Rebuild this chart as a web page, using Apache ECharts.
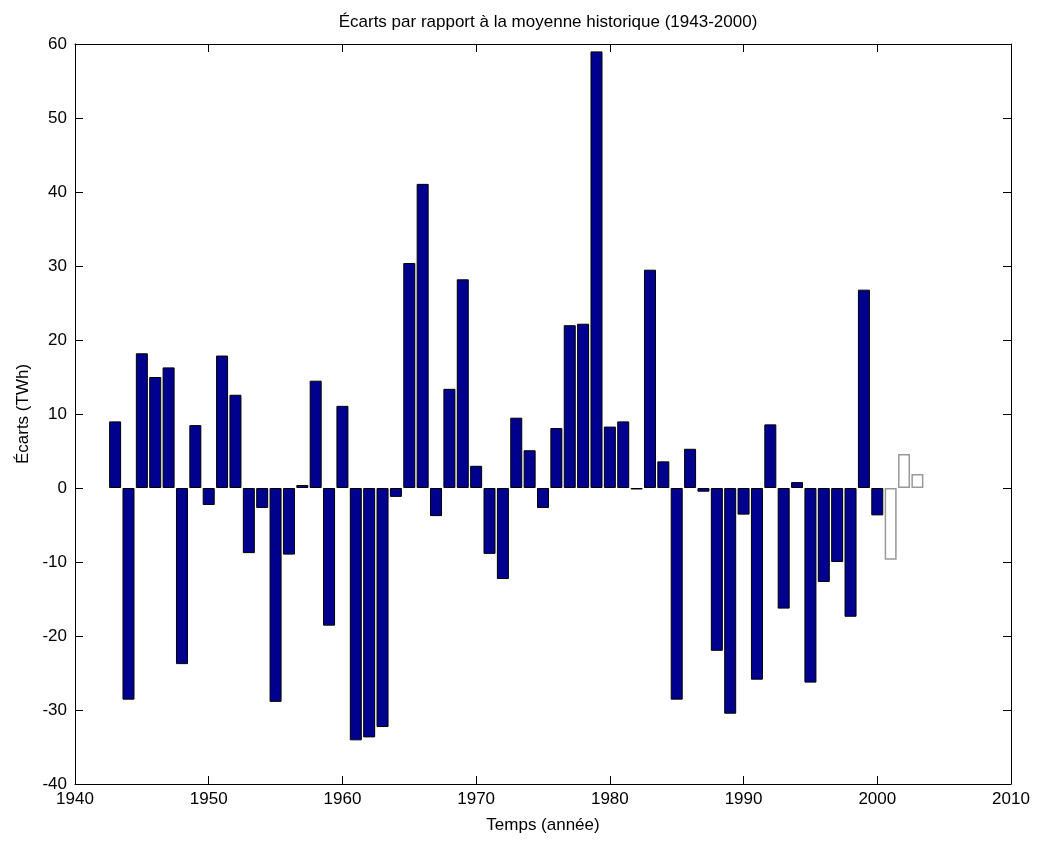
<!DOCTYPE html>
<html>
<head>
<meta charset="utf-8">
<script src="https://cdn.jsdelivr.net/npm/echarts@6/dist/echarts.min.js"></script>
<style>html,body{margin:0;padding:0;background:#fff}#c{width:1037px;height:846px}</style>
</head>
<body>
<div id="c"></div>
<script>
// Years and deviations (TWh) for historical period
const years = [1943,1944,1945,1946,1947,1948,1949,1950,1951,1952,1953,1954,1955,1956,1957,1958,1959,1960,
  1961,1962,1963,1964,1965,1966,1967,1968,1969,1970,1971,1972,1973,1974,1975,1976,1977,1978,1979,1980,
  1981,1982,1983,1984,1985,1986,1987,1988,1989,1990,1991,1992,1993,1994,1995,1996,1997,1998,1999,2000];
const ecarts = [9.0,-28.6,18.2,15.0,16.3,-23.8,8.5,-2.3,17.9,12.6,-8.8,-2.7,-28.9,-9.0,0.4,14.5,-18.6,11.1,
  -34.1,-33.7,-32.3,-1.2,30.4,41.1,-3.8,13.4,28.2,3.0,-8.9,-12.3,9.5,5.1,-2.7,8.1,22.0,22.2,59.0,8.3,
  9.0,-0.2,29.5,3.6,-28.6,5.3,-0.5,-22.0,-30.5,-3.6,-25.9,8.6,-16.3,0.8,-26.3,-12.7,-10.0,-17.4,26.8,-3.7];
// Recent years (outlined bars)
const yearsRecent = [2001,2002,2003];
const ecartsRecent = [-9.7,4.6,1.9];
const xTicks = [1940,1950,1960,1970,1980,1990,2000,2010];
const yTicks = [-40,-30,-20,-10,0,10,20,30,40,50,60];

const font = '"Liberation Sans", Arial, sans-serif';
const chart = echarts.init(document.getElementById('c'), null, {renderer:'canvas'});
const axisLine = {show:true, onZero:false, lineStyle:{color:'#000', width:1}};
const tick = {show:true, inside:true, length:8, lineStyle:{color:'#000', width:1}};
const lbl = {color:'#000', fontFamily:font, fontSize:17};

chart.setOption({
  backgroundColor:'#fff',
  animation:false,
  title:{text:'Écarts par rapport à la moyenne historique (1943-2000)', left:543, textAlign:'center', top:9,
    textStyle:{fontFamily:font, fontSize:17, fontWeight:'normal', color:'#000'}},
  grid:{left:75, right:26, top:44, bottom:62, show:false},
  xAxis:[
    {type:'value', min:xTicks[0], max:xTicks[xTicks.length-1], interval:10, position:'bottom',
     name:'Temps (année)', nameLocation:'middle', nameGap:33,
     nameTextStyle:{fontFamily:font, fontSize:17, color:'#000'},
     axisLine:axisLine, axisTick:tick, splitLine:{show:false},
     axisLabel:Object.assign({margin:7, formatter:v=>String(v)}, lbl)},
    {type:'value', min:xTicks[0], max:xTicks[xTicks.length-1], interval:10, position:'top',
     axisLine:axisLine, axisTick:tick, splitLine:{show:false}, axisLabel:{show:false}}
  ],
  yAxis:[
    {type:'value', min:yTicks[0], max:yTicks[yTicks.length-1], interval:10, position:'left',
     name:'Écarts (TWh)', nameLocation:'middle', nameGap:43, nameRotate:90,
     nameTextStyle:{fontFamily:font, fontSize:17, color:'#000'},
     axisLine:axisLine, axisTick:tick, splitLine:{show:false},
     axisLabel:Object.assign({margin:8}, lbl)},
    {type:'value', min:yTicks[0], max:yTicks[yTicks.length-1], interval:10, position:'right',
     axisLine:axisLine, axisTick:tick, splitLine:{show:false}, axisLabel:{show:false}}
  ],
  series:[
    {type:'bar', xAxisIndex:0, yAxisIndex:0, barWidth:12, barGap:'-100%',
     data: years.map((y,i)=>[y, ecarts[i]]),
     itemStyle:{color:'#00008F', borderColor:'#000', borderWidth:1}},
    {type:'bar', xAxisIndex:0, yAxisIndex:0, barWidth:12, barGap:'-100%',
     data: yearsRecent.map((y,i)=>[y, ecartsRecent[i]]),
     itemStyle:{color:'#fff', borderColor:'#999', borderWidth:1.5}}
  ]
});
</script>
</body>
</html>
